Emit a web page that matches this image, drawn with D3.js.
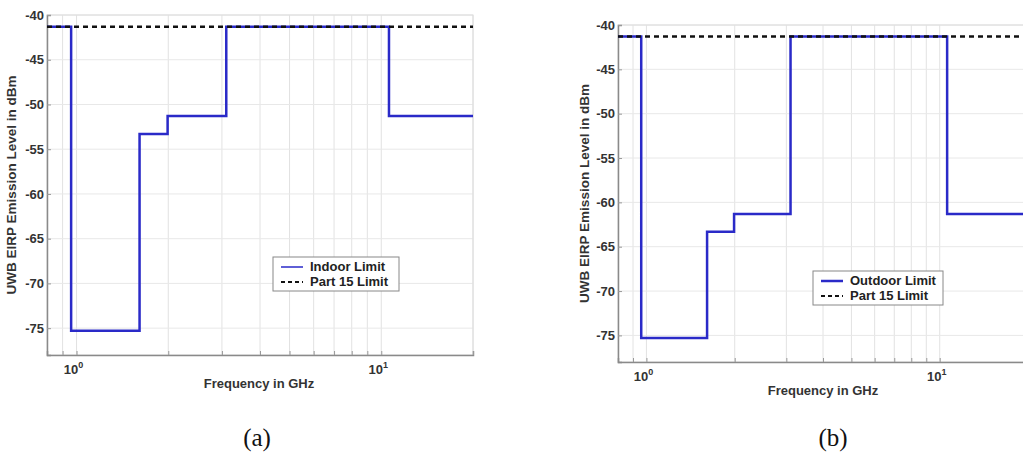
<!DOCTYPE html>
<html><head><meta charset="utf-8">
<script src="https://cdn.jsdelivr.net/npm/d3@7"></script>
<style>
body{margin:0;background:#fff;}
svg{display:block;}
text{font-family:"Liberation Sans",Arial,sans-serif;}
text.cap{font-family:"Liberation Serif","Times New Roman",serif;}
</style></head>
<body><svg id="c" width="1023" height="457"></svg>
<script>
// ---- data ----
const freqEdges = [0.8, 0.96, 1.61, 1.99, 3.1, 10.6, 20];           // GHz band edges
const indoorLevels = [-41.3, -75.3, -53.3, -51.3, -41.3, -51.3];     // dBm per band
const outdoorLevels = [-41.3, -75.3, -63.3, -61.3, -41.3, -61.3];    // dBm per band
const part15Level = -41.3;
const xDomain = [0.8, 20];
const yDomain = [-78, -40];
const yTicks = [-75, -70, -65, -60, -55, -50, -45, -40];
const xMajorTicks = [1, 10];
const xMajorExp = ["0", "1"];
const xMinorTicks = [0.9, 2, 3, 4, 5, 6, 7, 8, 9, 20];
const yTitle = "UWB EIRP Emission Level in dBm";
const xTitle = "Frequency in GHz";

const svg = d3.select("#c");

function panel(cfg){
  const x = d3.scaleLog().domain(xDomain).range([cfg.l, cfg.r]);
  const y = d3.scaleLinear().domain(yDomain).range([cfg.b, cfg.t]);
  const g = svg.append("g");
  // grid
  g.append("g").selectAll("line").data(xMinorTicks.concat(xMajorTicks)).join("line")
    .attr("x1", d=>x(d)).attr("x2", d=>x(d)).attr("y1", cfg.t).attr("y2", cfg.b)
    .attr("stroke", "#e2e2e2").attr("stroke-width", 1);
  g.append("g").selectAll("line").data(yTicks).join("line")
    .attr("x1", cfg.l).attr("x2", cfg.r).attr("y1", d=>y(d)).attr("y2", d=>y(d))
    .attr("stroke", "#e8e8e8").attr("stroke-width", 1);
  // frame
  g.append("rect").attr("x", cfg.l).attr("y", cfg.t).attr("width", cfg.r-cfg.l).attr("height", cfg.b-cfg.t)
    .attr("fill","none").attr("stroke","#dcdcdc");
  // axes
  const yAxis = d3.axisLeft(y).tickValues(yTicks).tickSize(-4).tickPadding(3).tickFormat(d3.format("d"));
  const ya = g.append("g").attr("transform", `translate(${cfg.l},0)`).call(yAxis);
  ya.select(".domain").attr("stroke","#8a8a8a").attr("stroke-width",1.5);
  ya.selectAll(".tick line").attr("stroke","#999");
  ya.selectAll("text").attr("font-size", 13).attr("font-weight","bold").attr("fill","#333")
    .text(d=>d3.format("d")(d).replace("−","-"));
  const xAxis = d3.axisBottom(x).tickValues(xMinorTicks.concat(xMajorTicks)).tickSize(-4).tickFormat("");
  const xa = g.append("g").attr("transform", `translate(0,${cfg.b})`).call(xAxis);
  xa.select(".domain").attr("stroke","#8a8a8a").attr("stroke-width",1.5);
  xa.selectAll(".tick line").attr("stroke","#999");
  // major labels with superscript
  xMajorTicks.forEach((v,i)=>{
    const t = g.append("text").attr("x", x(v)-3).attr("y", cfg.b+19).attr("text-anchor","middle")
      .attr("font-size",13).attr("font-weight","bold").attr("fill","#333");
    t.append("tspan").text("10");
    t.append("tspan").attr("dy",-6).attr("font-size",9).text(xMajorExp[i]);
  });
  // titles
  g.append("text").attr("x", (cfg.l+cfg.r)/2 + cfg.xtOff).attr("y", cfg.b+33).attr("text-anchor","middle")
    .attr("font-size",13).attr("font-weight","bold").attr("fill","#333").text(xTitle);
  g.append("text").attr("transform", `translate(${cfg.ytx},${(cfg.t+cfg.b)/2}) rotate(-90)`)
    .attr("text-anchor","middle").attr("font-size",13.5).attr("font-weight","bold").attr("fill","#333").text(yTitle);
  // data
  const pts = cfg.levels.map((v,i)=>[freqEdges[i], v]);
  pts.push([freqEdges[freqEdges.length-1], cfg.levels[cfg.levels.length-1]]);
  const line = d3.line().x(d=>x(d[0])).y(d=>y(d[1])).curve(d3.curveStepAfter);
  g.append("path").attr("d", line(pts)).attr("fill","none").attr("stroke","#2a2ac8").attr("stroke-width",2.5);
  g.append("path").attr("d", line(xDomain.map(f=>[f, part15Level]))).attr("fill","none")
    .attr("stroke","#111").attr("stroke-width",2.5).attr("stroke-dasharray","5,4");
  // legend
  const L = cfg.leg;
  const lg = g.append("g").attr("transform", `translate(${L.x},${L.y})`);
  lg.append("rect").attr("width", L.w).attr("height", 34).attr("fill","#fff").attr("stroke","#888");
  lg.append("line").attr("x1",8).attr("x2",30).attr("y1",10).attr("y2",10).attr("stroke","#2a2ac8").attr("stroke-width",cfg.legW);
  lg.append("line").attr("x1",8).attr("x2",30).attr("y1",25).attr("y2",25).attr("stroke","#111").attr("stroke-width",2).attr("stroke-dasharray","4,3");
  lg.append("text").attr("x",37).attr("y",14).attr("font-size",13).attr("font-weight","bold").attr("fill","#222").text(cfg.name);
  lg.append("text").attr("x",37).attr("y",29).attr("font-size",13).attr("font-weight","bold").attr("fill","#222").text("Part 15 Limit");
  // caption
  svg.append("text").attr("class","cap").attr("x", cfg.cap).attr("y", 446).attr("text-anchor","middle")
    .attr("font-size",25).attr("fill","#111").text(cfg.capText);
}

panel({l:47, r:473, t:15, b:355, levels:indoorLevels, name:"Indoor Limit", legW:1.5,
  leg:{x:273, y:257, w:126}, ytx:16, xtOff:-1, cap:257, capText:"(a)"});
panel({l:618, r:1028, t:25, b:362, levels:outdoorLevels, name:"Outdoor Limit", legW:2.5,
  leg:{x:813, y:271, w:130}, ytx:589, xtOff:0, cap:833, capText:"(b)"});
</script></body></html>
